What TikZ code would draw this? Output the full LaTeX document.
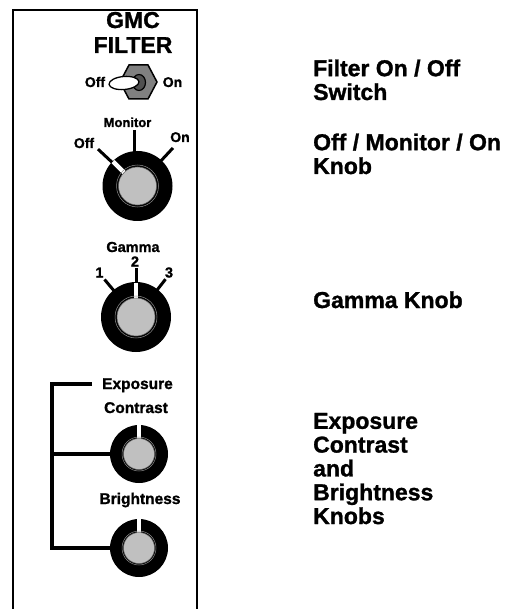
\documentclass[tikz,border=0pt]{standalone}
\usepackage{fontspec}
\setmainfont{Liberation Sans}[BoldFont={Liberation Sans Bold}, BoldFeatures={FakeBold=1.2}]
\usetikzlibrary{calc}
\definecolor{capgray}{HTML}{C0C0C0}
\definecolor{hexgray}{HTML}{808080}
\definecolor{stemgray}{HTML}{505050}
\begin{document}
\begin{tikzpicture}[x=1pt,y=1pt,
  lbl/.style={font=\fontsize{#1}{#1}\selectfont\bfseries, inner sep=0, anchor=base},
  rtext/.style={font=\fontsize{23}{23.8}\selectfont\bfseries, inner sep=0, anchor=base west, align=left},
  knob/.style={circle, fill=black, inner sep=0, minimum size=#1},
  capc/.style={circle, fill=capgray, draw=black!60, line width=0.5, inner sep=0, minimum size=#1},
  ringc/.style={circle, draw=black!45, line width=0.5, inner sep=0, minimum size=#1},
  tick/.style={line width=3},
  slit/.style={white, line width=4.5},
  frame/.style={line width=2},
  bracket/.style={line width=3.2}
]
\useasboundingbox (0,0) rectangle (509,-609);

% panel frame
\draw[frame] (13,-609) -- (13,-10) -- (197,-10) -- (197,-609);

% title
\node[lbl=23] (gmc) at (133,-28) {GMC};
\node[lbl=23] (filt) at (133,-53) {FILTER};

% toggle switch
\draw[fill=hexgray, line width=1.5] (120,-82) -- (129,-65) -- (148,-65) -- (157,-82) -- (148,-99) -- (129,-99) -- cycle;
\draw[fill=stemgray, line width=1.2] (139,-82.5) ellipse [x radius=6.5, y radius=8];
\draw[fill=white, line width=1.3, rotate around={5:(124,-83)}] (124,-83) ellipse [x radius=15, y radius=6.5];
\node[lbl=14] (toff) at (95,-87) {Off};
\node[lbl=14] (ton) at (172.5,-87) {On};

% monitor knob
\coordinate (M) at (137.5,-186);
\draw[tick] ($(M)+(137:33)$) -- ($(M)+(137:54)$);
\draw[tick] (134,-130) -- (134,-156);
\draw[tick] ($(M)+(47:33)$) -- ($(M)+(47:52)$);
\node[knob=70] (mon) at (M) {};
\draw[slit] ($(M)+(135:19)$) -- ($(M)+(135:34.5)$);
\node[ringc=42] at (M) {};
\node[capc=38] (moncap) at (M) {};
\node[lbl=13] (monl) at (127.5,-127) {Monitor};
\node[lbl=14] (moff) at (84,-148) {Off};
\node[lbl=14] (mon2) at (180,-142) {On};

% gamma knob
\coordinate (G) at (136,-317);
\draw[tick] ($(G)+(130:33)$) -- ($(G)+(130:49)$);
\draw[tick] ($(G)+(90:33)$) -- ($(G)+(90:49)$);
\draw[tick] ($(G)+(52:33)$) -- ($(G)+(52:48)$);
\node[knob=70] (gam) at (G) {};
\draw[slit] ($(G)+(90:19)$) -- ($(G)+(90:34.5)$);
\node[ringc=42] at (G) {};
\node[capc=38] (gamcap) at (G) {};
\node[lbl=14.5] (gaml) at (133,-252) {Gamma};
\node[lbl=14.5] (g1) at (99.5,-277.5) {1};
\node[lbl=14.5] (g2) at (135,-266.5) {2};
\node[lbl=14.5] (g3) at (169,-277.5) {3};

% contrast and brightness knobs
\coordinate (C) at (139,-454);
\coordinate (B) at (139,-548);
\node[knob=58] (con) at (C) {};
\draw[slit, line width=4] ($(C)+(90:15)$) -- ($(C)+(90:28.7)$);
\node[ringc=34] at (C) {};
\node[capc=31] (concap) at (C) {};
\node[knob=58] (bri) at (B) {};
\draw[slit, line width=4] ($(B)+(90:15)$) -- ($(B)+(90:28.7)$);
\node[ringc=34] at (B) {};
\node[capc=31] (bricap) at (B) {};

\node[lbl=15.5] (expl) at (137.5,-389) {Exposure};
\node[lbl=15.5] (conl) at (136,-413) {Contrast};
\node[lbl=15.5] (bril) at (140,-504) {Brightness};

% bracket
\coordinate (bt) at (92,-384);
\coordinate (bc) at (52,-384);
\draw[bracket] (bt) -- (bc) -- (bc |- bri) -- (bri.west);
\draw[bracket] (bc |- con) -- (con.west);

% right-hand descriptions (base = last line)
\node[rtext] (d1) at (313,-100) {Filter On / Off\\Switch};
\node[rtext] (d2) at (313,-174) {Off / Monitor / On\\Knob};
\node[rtext] (d3) at (313,-308) {Gamma Knob};
\node[rtext] (d4) at (313,-524) {Exposure\\Contrast\\and\\Brightness\\Knobs};
\end{tikzpicture}
\end{document}
